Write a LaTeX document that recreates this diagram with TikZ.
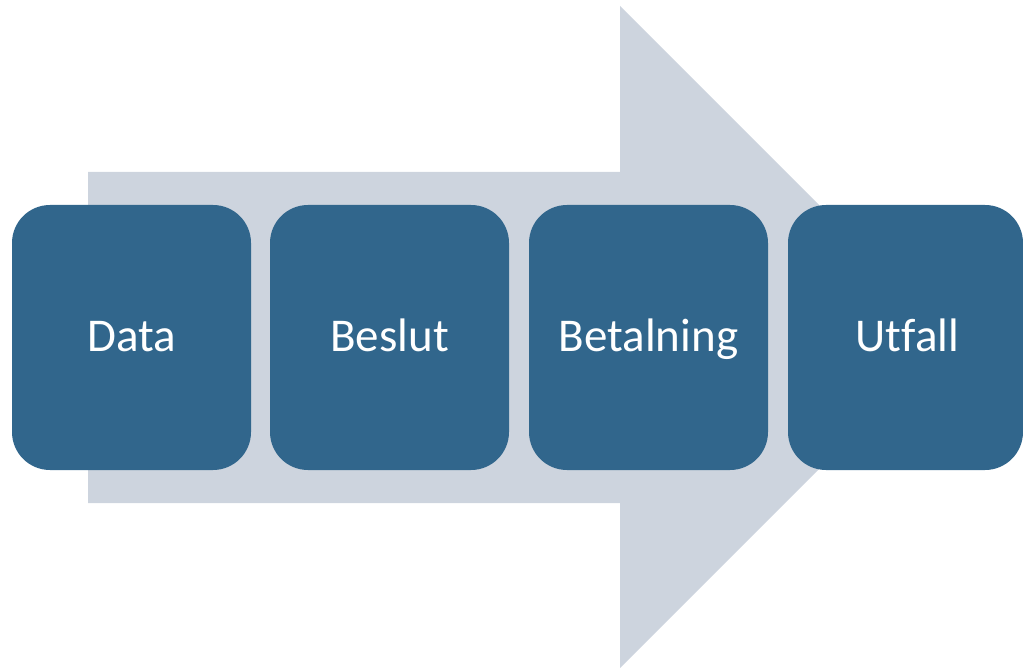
\documentclass[tikz,border=0pt]{standalone}
\usepackage{fontspec}
\setmainfont[Ligatures=NoCommon]{Carlito}
\definecolor{boxblue}{HTML}{31668C}
\definecolor{arrowgray}{HTML}{CDD4DE}
\begin{document}
\begin{tikzpicture}[x=1pt,y=-1pt,
  stage/.style={fill=boxblue,rounded corners=38pt},
  lbl/.style={text=white,font=\fontsize{47}{56}\selectfont,anchor=base,inner sep=0pt}]
\useasboundingbox (0,0) rectangle (1023,668);
\fill[arrowgray] (88,172) -- (620,172) -- (620,6) -- (951,337) -- (620,668) -- (620,503) -- (88,503) -- cycle;
\fill[stage] (12,205) rectangle (251,470);
\fill[stage] (270,205) rectangle (509,470);
\fill[stage] (529,205) rectangle (768,470);
\fill[stage] (788,205) rectangle (1023,470);
\node[lbl] (data) at (131.5,352) {Data};
\node[lbl] (beslut) at (389.5,352) {Beslut};
\node[lbl] (betalning) at (648.5,352) {Betalning};
\node[lbl] (utfall) at (907.5,352) {Utfall};
\end{tikzpicture}
\end{document}
